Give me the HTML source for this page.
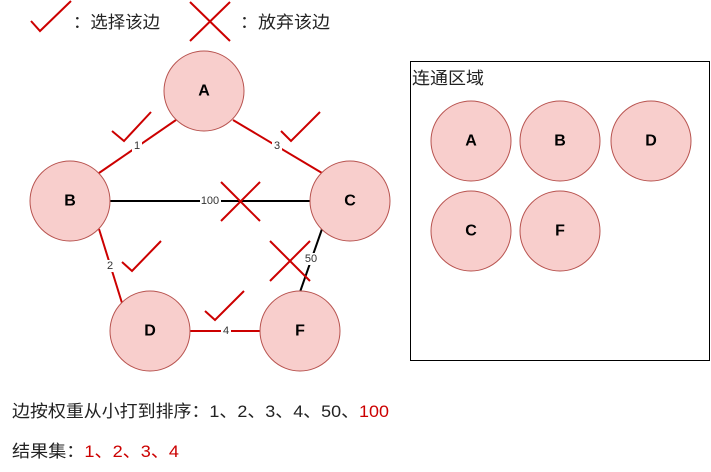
<!DOCTYPE html>
<html><head><meta charset="utf-8"><style>
html,body{margin:0;padding:0;background:#fff;}
svg{display:block;}
text{font-family:"Liberation Sans","Noto Sans CJK SC",sans-serif;}
.n{fill:#f8cecc;stroke:#b85450;stroke-width:1;}
.l{font-weight:bold;font-size:16px;text-anchor:middle;dominant-baseline:central;fill:#000;}
.e{font-size:11px;text-anchor:middle;dominant-baseline:central;fill:#333;}
.r{stroke:#cc0000;stroke-width:2;fill:none;}
.k{stroke:#000;stroke-width:2;fill:none;}
.t{font-size:17px;fill:#222;}
</style></head><body>
<svg width="711" height="472" viewBox="0 0 711 472">
<!-- legend -->
<polyline class="r" points="31,21 40,31 71,1"/>
<text class="t" x="73" y="28" textLength="87" lengthAdjust="spacingAndGlyphs">：选择该边</text>
<line class="r" x1="190" y1="2" x2="230" y2="41"/>
<line class="r" x1="230" y1="2" x2="190" y2="41"/>
<text class="t" x="240" y="28" textLength="90" lengthAdjust="spacingAndGlyphs">：放弃该边</text>
<!-- edges -->
<line class="r" x1="176" y1="120" x2="99" y2="173"/>
<line class="r" x1="233" y1="120" x2="322" y2="173"/>
<line class="k" x1="110" y1="201" x2="310" y2="201"/>
<line class="r" x1="99" y1="229" x2="122" y2="303"/>
<line class="k" x1="322" y1="229" x2="300" y2="292"/>
<line class="r" x1="190" y1="331" x2="260" y2="331"/>
<rect x="132" y="140" width="10" height="12" fill="#fff"/><text class="e" x="137" y="146">1</text>
<rect x="272" y="140" width="10" height="12" fill="#fff"/><text class="e" x="277" y="146">3</text>
<rect x="200" y="195" width="21" height="12" fill="#fff"/><text class="e" x="210" y="201">100</text>
<rect x="105" y="260" width="10" height="12" fill="#fff"/><text class="e" x="110" y="266">2</text>
<rect x="303" y="253" width="16" height="12" fill="#fff"/><text class="e" x="311" y="259">50</text>
<rect x="221" y="325" width="10" height="12" fill="#fff"/><text class="e" x="226" y="331">4</text>
<!-- marks -->
<polyline class="r" points="112,131 124,141 151,112"/>
<polyline class="r" points="281,131 291,141 320,112"/>
<polyline class="r" points="122,262 132,271 161,241"/>
<polyline class="r" points="205,311 215,320 244,291"/>
<line class="r" x1="221" y1="182" x2="260" y2="221"/>
<line class="r" x1="260" y1="182" x2="221" y2="221"/>
<line class="r" x1="270" y1="241" x2="310" y2="281"/>
<line class="r" x1="310" y1="241" x2="270" y2="281"/>
<!-- nodes -->
<circle class="n" cx="204" cy="91" r="40"/><text class="l" x="204" y="91">A</text>
<circle class="n" cx="70" cy="201" r="40"/><text class="l" x="70" y="201">B</text>
<circle class="n" cx="350" cy="201" r="40"/><text class="l" x="350" y="201">C</text>
<circle class="n" cx="150" cy="331" r="40"/><text class="l" x="150" y="331">D</text>
<circle class="n" cx="300" cy="331" r="40"/><text class="l" x="300" y="331">F</text>
<!-- box -->
<rect x="410.5" y="61.5" width="299" height="299" fill="#fff" stroke="#000" stroke-width="1"/>
<text class="t" x="412" y="84" textLength="72" lengthAdjust="spacingAndGlyphs">连通区域</text>
<circle class="n" cx="471" cy="141" r="40"/><text class="l" x="471" y="141">A</text>
<circle class="n" cx="560" cy="141" r="40"/><text class="l" x="560" y="141">B</text>
<circle class="n" cx="651" cy="141" r="40"/><text class="l" x="651" y="141">D</text>
<circle class="n" cx="471" cy="231" r="40"/><text class="l" x="471" y="231">C</text>
<circle class="n" cx="560" cy="231" r="40"/><text class="l" x="560" y="231">F</text>
<!-- bottom text -->
<text class="t" x="12" y="417" textLength="377" lengthAdjust="spacingAndGlyphs">边按权重从小打到排序：1、2、3、4、50、<tspan fill="#cc0000">100</tspan></text>
<text class="t" x="12" y="457" textLength="167" lengthAdjust="spacingAndGlyphs">结果集：<tspan fill="#cc0000">1、2、3、4</tspan></text>
</svg>
</body></html>
